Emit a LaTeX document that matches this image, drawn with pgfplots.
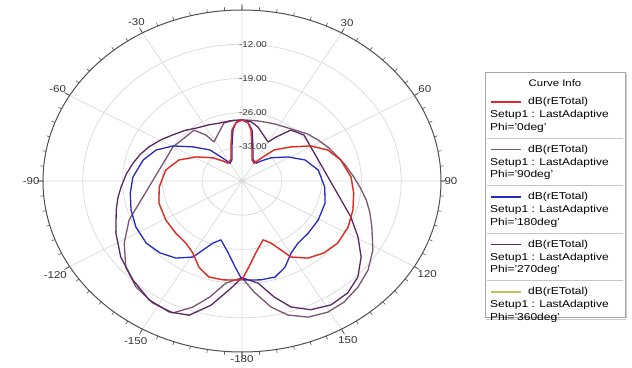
\documentclass[border=0pt]{standalone}
\usepackage{pgfplots}
\pgfplotsset{compat=1.18}
\usepgfplotslibrary{polar}
\usepackage{pgfplotstable}
\usepackage{graphicx}
\usepackage{fontspec}
\setmainfont{Liberation Sans}

\definecolor{cRed}{RGB}{232,36,44}
\definecolor{cMauve}{RGB}{125,85,110}
\definecolor{cBlue}{RGB}{40,40,195}
\definecolor{cPurple}{RGB}{90,40,100}
\definecolor{cOlive}{RGB}{190,195,95}
\definecolor{cGrid}{RGB}{218,218,218}
\definecolor{cAxis}{RGB}{80,80,80}

% theta in degrees (0 at top, clockwise positive), r in dB
\pgfplotstableread{
t r
-180 -19.8
-177 -19.7
-170.7 -19.5
-163.5 -19.5
-156.8 -20.8
-149.7 -22.9
-142.3 -23.9
-132.5 -24.2
-120.8 -24.4
-107.2 -24.7
-94.8 -25.4
-80.5 -26.4
-68.8 -28.1
-58.8 -30.5
-47.2 -33.0
-40 -34.6
-34 -35.6
-24 -35.2
-14.7 -32.4
-9.6 -29.4
-5 -28.0
0 -27.5
5 -28.0
8.6 -29.4
13.3 -32.4
22 -35.3
30 -35.8
37 -33.8
41.6 -31.5
51.0 -28.9
59.4 -25.9
67.3 -23.6
76.1 -22.1
87.6 -20.8
97.1 -20.2
106.9 -19.6
116.8 -19.1
127.0 -18.9
135.6 -19.4
143.6 -20.4
151.0 -22.2
154.1 -24.3
158.1 -26.3
162.9 -27.4
170.6 -25.1
176.0 -22.4
180 -19.8
}\phiZero

\pgfplotstableread{
t r
-180 -19.8
-176.0 -22.4
-170.6 -25.1
-162.9 -27.4
-158.1 -26.3
-154.1 -24.3
-151.0 -22.2
-143.6 -20.4
-135.6 -19.4
-127.0 -18.9
-116.8 -19.1
-106.9 -19.6
-97.1 -20.2
-87.6 -20.8
-76.1 -22.1
-67.3 -23.6
-59.4 -25.9
-51.0 -28.9
-41.6 -31.5
-37 -33.8
-30 -35.8
-22 -35.3
-13.3 -32.4
-8.6 -29.4
-5 -28.0
0 -27.5
5 -28.0
9.6 -29.4
14.7 -32.4
24 -35.2
34 -35.6
40 -34.6
47.2 -33.0
58.8 -30.5
68.8 -28.1
80.5 -26.4
94.8 -25.4
107.2 -24.7
120.8 -24.4
132.5 -24.2
142.3 -23.9
149.7 -22.9
156.8 -20.8
163.5 -19.5
170.7 -19.5
177 -19.7
180 -19.8
}\phiOneEighty

\pgfplotstableread{
t r
-180 -20.2
-172.3 -18.9
-166.6 -15.6
-161.5 -12.8
-155.8 -10.4
-147.9 -10.5
-139.3 -11.4
-130.8 -13.0
-121.5 -15.7
-111.9 -18.6
-60.2 -26.0
-39 -26.6
-33.9 -28.7
-31.7 -30.6
-14.9 -27.7
-7 -27.5
0 -27.5
4.8 -27.5
12 -27.4
18 -27.3
25.8 -27.0
33 -26.7
43.9 -25.8
50 -25.0
57.9 -24.2
66 -23.3
73.8 -22.4
80 -21.5
87.7 -20.3
94 -19.1
100.1 -17.8
106 -16.6
112.4 -15.3
121.5 -13.0
129.4 -11.3
136.8 -10.2
144.1 -9.4
150.6 -9.2
157.3 -9.8
163.6 -11.4
168.8 -13.7
174.7 -17.2
180 -20.2
}\phiNinety

\pgfplotstableread{
t r
-180 -20.2
-174.2 -17.6
-167.9 -14.0
-161.3 -11.0
-154.4 -10.3
-146.1 -10.7
-136.6 -12.1
-126.1 -13.6
-115.6 -15.4
-105 -17.1
-99 -17.9
-93.3 -18.7
-86 -19.6
-79.2 -20.5
-73 -21.3
-66.9 -22.2
-59 -23.5
-52.2 -24.6
-44 -25.6
-36.7 -26.5
-27 -27.1
-18.9 -27.5
-10 -27.5
0 -27.5
8 -27.8
14.2 -28.6
29.9 -30.8
33.6 -29.2
39.5 -26.5
49.2 -25.6
111 -19.5
119.3 -16.6
126.6 -13.9
133.9 -11.7
140.9 -10.5
148.3 -10.2
155.3 -11.0
161.5 -12.8
166.6 -15.6
172.3 -18.9
180 -20.2
}\phiTwoSeventy

\newcommand\sx[1]{\scalebox{1.15}[1]{#1}}
\newcommand\lx[1]{\scalebox{1.2}[1]{#1}}

\begin{document}
\begin{tikzpicture}[x=1pt,y=1pt]
\useasboundingbox (0,0) rectangle (632,367);
\begin{polaraxis}[
  at={(43pt,15pt)}, anchor=south west,
  scale only axis, width=398pt, height=342pt,
  unit vector ratio=,
  ymin=0, ymax=35,
  xtick={0,30,...,330},
  xticklabels={\sx{90},\sx{60},\sx{30},{},\sx{-30},\sx{-60},\sx{-90},\sx{-120},\sx{-150},\sx{-180},\sx{150},\sx{120}},
  minor xtick={0,5,...,355},
  ytick={7,14,21,28},
  yticklabels={},
  grid=major,
  major grid style={cGrid, line width=0.7pt},
  major tick length=6pt,
  minor tick length=3.5pt,
  every tick/.style={cAxis, line width=0.6pt},
  axis line style={cAxis, line width=1pt},
  y axis line style={draw=none},
  ytick style={draw=none},
  xticklabel style={font=\fontsize{10}{11}\selectfont, text=black!80},
  line join=round,
]
\addplot[cOlive, line width=1.3pt] table[x expr={90-\thisrow{t}}, y expr={\thisrow{r}+40}] {\phiZero};
\addplot[cMauve, line width=1.3pt] table[x expr={90-\thisrow{t}}, y expr={\thisrow{r}+40}] {\phiNinety};
\addplot[cPurple, line width=1.3pt] table[x expr={90-\thisrow{t}}, y expr={\thisrow{r}+40}] {\phiTwoSeventy};
\addplot[cBlue, line width=1.3pt] table[x expr={90-\thisrow{t}}, y expr={\thisrow{r}+40}] {\phiOneEighty};
\addplot[cRed, line width=1.3pt] table[x expr={90-\thisrow{t}}, y expr={\thisrow{r}+40}] {\phiZero};
\foreach \rr/\lab in {7/-33.00,14/-26.00,21/-19.00,28/-12.00}{
  \edef\tmp{\noexpand\node[anchor=west, inner sep=0pt, xshift=-3pt, font=\noexpand\fontsize{8.5}{9}\noexpand\selectfont, text=black!80] at (axis cs:90,\rr) {\noexpand\sx{\lab}};}
  \tmp
}
\end{polaraxis}
% legend
\draw[gray!70, line width=1pt, fill=white] (485,49) rectangle (625,294);
\draw[gray!40, line width=0.6pt] (626.5,48) -- (626.5,293);
\draw[gray!40, line width=0.6pt] (486,47.5) -- (626,47.5);
\node[font=\fontsize{9.5}{10}\selectfont] at (555,284) {\lx{Curve Info}};
\foreach \i/\col/\ph in {0/cRed/0,1/cMauve/90,2/cBlue/180,3/cPurple/270,4/cOlive/360}{
  \pgfmathsetmacro\yy{265-47.5*\i}
  \draw[\col, line width=1.6pt] (491,\yy) -- (521,\yy);
  \node[anchor=west, inner sep=0pt, font=\fontsize{10}{11}\selectfont] at (528,\yy) {\lx{dB(rETotal)}};
  \node[anchor=west, inner sep=0pt, font=\fontsize{10}{11}\selectfont] at (490,\yy-13) {\lx{Setup1 : LastAdaptive}};
  \node[anchor=west, inner sep=0pt, font=\fontsize{10}{11}\selectfont] at (490,\yy-25.5) {\lx{Phi='\ph deg'}};
}
\foreach \i in {0,1,2,3}{
  \pgfmathsetmacro\yy{265-47.5*\i-36}
  \draw[gray!45, line width=0.6pt] (487,\yy) -- (623,\yy);
}
\end{tikzpicture}
\end{document}
